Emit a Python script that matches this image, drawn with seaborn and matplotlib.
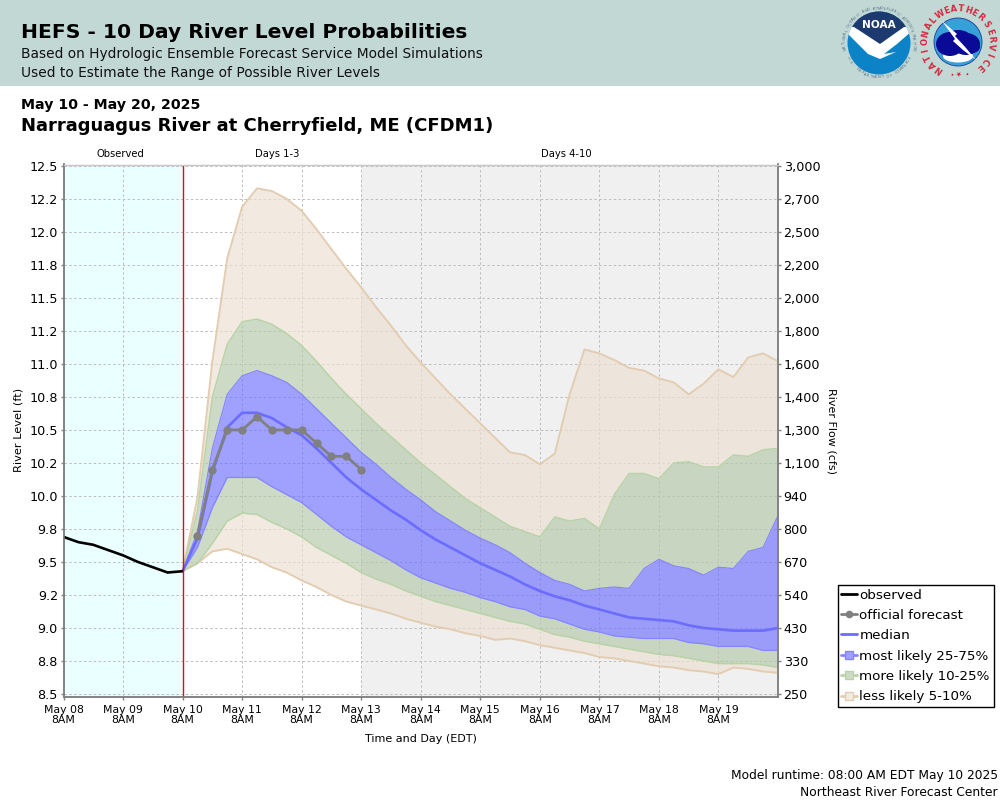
import numpy as np
import pandas as pd
import matplotlib
matplotlib.use("Agg")
import matplotlib.pyplot as plt
import seaborn as sns
from matplotlib.lines import Line2D
from matplotlib.patches import Circle, Ellipse, Polygon, Rectangle

# ─── Data (river level in ft) ─────────────────────────────────────────────────
OBSERVED = [9.69, 9.65, 9.63, 9.59, 9.55, 9.50, 9.46, 9.42, 9.43]
OFFICIAL = [9.7, 10.2, 10.5, 10.5, 10.6, 10.5, 10.5, 10.5, 10.4, 10.3, 10.3, 10.2]

P95 = [9.43, 9.99, 11.02, 11.80, 12.19, 12.33, 12.31, 12.25, 12.16, 12.02, 11.87,
       11.72, 11.58, 11.43, 11.29, 11.14, 11.01, 10.89, 10.77, 10.66, 10.55,
       10.44, 10.33, 10.31, 10.24, 10.32, 10.77, 11.11, 11.08, 11.03, 10.97,
       10.95, 10.89, 10.86, 10.77, 10.85, 10.96, 10.90, 11.05, 11.08, 11.02]
P90 = [9.43, 9.89, 10.75, 11.15, 11.32, 11.34, 11.30, 11.23, 11.14, 11.02, 10.89,
       10.77, 10.66, 10.55, 10.45, 10.35, 10.25, 10.16, 10.07, 9.98, 9.91,
       9.84, 9.77, 9.73, 9.69, 9.84, 9.81, 9.83, 9.75, 10.01, 10.17,
       10.17, 10.13, 10.25, 10.26, 10.22, 10.22, 10.31, 10.30, 10.35, 10.36]
P75 = [9.43, 9.73, 10.36, 10.77, 10.91, 10.95, 10.91, 10.86, 10.77, 10.66, 10.55,
       10.44, 10.33, 10.24, 10.14, 10.05, 9.97, 9.88, 9.81, 9.74, 9.68,
       9.63, 9.57, 9.49, 9.42, 9.36, 9.33, 9.28, 9.30, 9.31, 9.30,
       9.45, 9.52, 9.47, 9.45, 9.40, 9.46, 9.45, 9.58, 9.61, 9.85]
MEDIAN = [9.43, 9.68, 10.18, 10.52, 10.63, 10.63, 10.59, 10.52, 10.46, 10.36, 10.25,
          10.14, 10.05, 9.97, 9.89, 9.82, 9.74, 9.67, 9.61, 9.55, 9.49,
          9.44, 9.39, 9.33, 9.28, 9.24, 9.21, 9.17, 9.14, 9.11, 9.08,
          9.07, 9.06, 9.05, 9.02, 9.00, 8.99, 8.98, 8.98, 8.98, 9.00]
P25 = [9.43, 9.61, 9.91, 10.14, 10.14, 10.14, 10.07, 10.01, 9.95, 9.86, 9.77,
       9.69, 9.63, 9.57, 9.51, 9.44, 9.38, 9.34, 9.30, 9.27, 9.23,
       9.20, 9.16, 9.14, 9.09, 9.07, 9.03, 8.99, 8.97, 8.94, 8.93,
       8.92, 8.92, 8.92, 8.89, 8.88, 8.86, 8.86, 8.86, 8.83, 8.83]
P10 = [9.43, 9.49, 9.64, 9.81, 9.87, 9.86, 9.80, 9.75, 9.69, 9.61, 9.55,
       9.49, 9.42, 9.37, 9.33, 9.28, 9.24, 9.20, 9.17, 9.14, 9.11,
       9.08, 9.05, 9.03, 8.99, 8.95, 8.93, 8.90, 8.88, 8.86, 8.84,
       8.82, 8.80, 8.79, 8.77, 8.75, 8.73, 8.73, 8.73, 8.72, 8.70]
P5 = [9.43, 9.49, 9.58, 9.60, 9.56, 9.52, 9.46, 9.42, 9.36, 9.31, 9.25,
      9.20, 9.17, 9.14, 9.11, 9.07, 9.04, 9.01, 8.99, 8.96, 8.94,
      8.91, 8.92, 8.90, 8.87, 8.85, 8.83, 8.81, 8.78, 8.77, 8.75,
      8.73, 8.71, 8.70, 8.68, 8.67, 8.65, 8.70, 8.69, 8.67, 8.66]

LEVEL_TICKS = [8.5, 8.75, 9.0, 9.25, 9.5, 9.75, 10.0, 10.25, 10.5, 10.75, 11.0,
               11.25, 11.5, 11.75, 12.0, 12.25, 12.5]
LEVEL_LABELS = ["8.5", "8.8", "9.0", "9.2", "9.5", "9.8", "10.0", "10.2", "10.5",
                "10.8", "11.0", "11.2", "11.5", "11.8", "12.0", "12.2", "12.5"]
FLOW_LABELS = ["250", "330", "430", "540", "670", "800", "940", "1,100", "1,300",
               "1,400", "1,600", "1,800", "2,000", "2,200", "2,500", "2,700", "3,000"]
DAY_LABELS = ["May 08", "May 09", "May 10", "May 11", "May 12", "May 13", "May 14",
              "May 15", "May 16", "May 17", "May 18", "May 19"]

# ─── Colours ──────────────────────────────────────────────────────────────────
TAN, TAN_EDGE = "#ede1d1", "#e3cdb2"
GREEN, GREEN_EDGE = "#b5c9aa", "#b9d3a9"
BLUE, BLUE_EDGE = "#7171ff", "#8585ff"
MEDIAN_COL = "#6c6cff"
GREY = "#808080"
HEADER = "#c2d8d5"
FILL_ALPHA = 0.67

sns.set_style("ticks")
plt.rcParams["font.family"] = ["DejaVu Sans"]
plt.rcParams["text.color"] = "black"
plt.rcParams["axes.labelcolor"] = "black"

fig = plt.figure(figsize=(10, 8), dpi=100)

# ─── Background layer in pixel coordinates: header, titles, logos ─────────────
bg = fig.add_axes([0, 0, 1, 1], zorder=0)
bg.set_xlim(0, 1000)
bg.set_ylim(800, 0)
bg.axis("off")

bg.add_patch(Rectangle((0, 0), 1000, 86, color=HEADER, lw=0))
bg.text(21, 33, "HEFS - 10 Day River Level Probabilities", fontsize=14.6, weight="bold", va="center")
bg.text(21, 54, "Based on Hydrologic Ensemble Forecast Service Model Simulations", fontsize=9.92, va="center", color="#111111")
bg.text(21, 73, "Used to Estimate the Range of Possible River Levels", fontsize=9.92, va="center", color="#111111")
bg.text(21, 105, "May 10 - May 20, 2025", fontsize=10.2, weight="bold", va="center")
bg.text(21, 126, "Narraguagus River at Cherryfield, ME (CFDM1)", fontsize=13.0, weight="bold", va="center")
bg.text(998, 776, "Model runtime: 08:00 AM EDT May 10 2025", fontsize=8.83, ha="right", va="center")
bg.text(998, 792, "Northeast River Forecast Center", fontsize=8.83, ha="right", va="center")


def ring_text(text, cx, cy, r, start, stop, size, color, bold=False, flip=False):
    # one rotated letter at a time, angles in degrees clockwise from north
    for ang, ch in zip(np.linspace(start, stop, len(text)), text):
        a = np.deg2rad(ang)
        bg.text(cx + r * np.sin(a), cy - r * np.cos(a), ch, fontsize=size, color=color,
                ha="center", va="center", rotation=-ang + (180 if flip else 0),
                weight="bold" if bold else "normal")


# NOAA logo
cx, cy = 879, 43
disc = Circle((cx, cy), 31.5, color="#0b83c6", lw=0)
bg.add_patch(disc)
wings = Polygon([(845, 20), (913, 20), (913, 30), (897, 44), (884, 54), (896, 52), (880, 59),
                 (868, 54), (850, 36), (845, 30)], color="white", lw=0)
navy = Polygon([(845, 5), (913, 5), (913, 27), (904, 27), (880, 44), (854, 27), (845, 27)],
               color="#1d3a70", lw=0)
for p in (wings, navy):
    bg.add_patch(p)
    p.set_clip_path(disc)
bg.text(cx, 25, "NOAA", fontsize=7.6, color="white", weight="bold", ha="center", va="center")
ring_text("NATIONAL OCEANIC AND ATMOSPHERIC ADMINISTRATION", cx, cy, 34.5, -100, 100, 2.6, "#55708a")
ring_text("U.S. DEPARTMENT OF COMMERCE", cx, cy, 34.5, 245, 115, 2.6, "#55708a", flip=True)

# National Weather Service logo
cx, cy = 958, 42
bg.add_patch(Circle((cx, cy), 24, facecolor="#38a0d8", edgecolor="#1d3a9a", lw=0.6))
bg.add_patch(Ellipse((cx, cy + 14), 30, 13, color="white", lw=0))
for dx, dy, w, h in [(-8, 2, 28, 24), (8, 2, 28, 22), (0, -3, 28, 18), (-13, 5, 16, 14), (14, 5, 16, 12)]:
    bg.add_patch(Ellipse((cx + dx, cy + dy), w, h, color="#0a0a96", lw=0))
bg.add_patch(Polygon([(cx - 16, 21), (cx - 1, 34), (cx - 3, 36), (cx + 8, 48), (cx + 18, 60),
                      (cx + 5, 50), (cx - 5, 41), (cx - 3, 39)], color="white", lw=0))
ring_text("NATIONAL", cx, cy, 33, -145, -48, 6, "#d7263d", bold=True)
ring_text("WEATHER", cx, cy, 33, -32, 42, 6, "#d7263d", bold=True)
ring_text("SERVICE", cx, cy, 33, 58, 138, 6, "#d7263d", bold=True)
ring_text("•★•", cx, cy, 30, 194, 166, 5, "#d7263d")

# ─── Main chart ───────────────────────────────────────────────────────────────
ax = fig.add_axes([0.0635, 1 - 697 / 800, 0.7145, (697 - 164.5) / 800], zorder=1)

start = pd.Timestamp("2025-05-08 08:00")
now = pd.Timestamp("2025-05-10 08:00")
end = pd.Timestamp("2025-05-20 08:00")
days_1_3_end = pd.Timestamp("2025-05-13 08:00")
obs_time = pd.date_range(start, now, periods=len(OBSERVED))
fc_time = pd.date_range(now, end, periods=len(MEDIAN))

bands = pd.DataFrame({"time": fc_time, "p95": P95, "p90": P90, "p75": P75, "median": MEDIAN,
                      "p25": P25, "p10": P10, "p5": P5})
obs = pd.DataFrame({"time": obs_time, "level": OBSERVED})
official = pd.DataFrame({"time": fc_time[1:len(OFFICIAL) + 1], "level": OFFICIAL})

ax.axvspan(start, now, color="#eaffff", lw=0, zorder=0)
ax.axvspan(days_1_3_end, end, color="#f0f0f0", lw=0, zorder=0)

ax.set_axisbelow(True)
ax.grid(True, color="#bcbcbc", ls=(0, (2.5, 2.5)), lw=0.7)

for lo, hi, col in [("p90", "p95", TAN), ("p5", "p10", TAN), ("p75", "p90", GREEN),
                    ("p10", "p25", GREEN), ("p25", "p75", BLUE)]:
    ax.fill_between(bands["time"], bands[lo], bands[hi], color=col, alpha=FILL_ALPHA, lw=0, zorder=2)

for name, edge, lw in [("p95", TAN_EDGE, 1.4), ("p5", TAN_EDGE, 1.4), ("p90", GREEN_EDGE, 1.1),
                       ("p10", GREEN_EDGE, 1.1), ("p75", BLUE_EDGE, 0.9), ("p25", BLUE_EDGE, 0.9)]:
    sns.lineplot(data=bands, x="time", y=name, color=edge, lw=lw, ax=ax, zorder=3, legend=False)

sns.lineplot(data=bands, x="time", y="median", color=MEDIAN_COL, lw=1.9, ax=ax, zorder=4, legend=False)
sns.lineplot(data=obs, x="time", y="level", color="black", lw=1.9, ax=ax, zorder=5, legend=False)
ax.axvline(now, color="#ff0000", lw=1.0, zorder=5)
sns.lineplot(data=official, x="time", y="level", color=GREY, lw=2.0, marker="o", markersize=6,
             markeredgewidth=0, ax=ax, zorder=6, legend=False)

ax.set_xlim(start, end)
ax.set_ylim(8.477, 12.511)
ax.set_yticks(LEVEL_TICKS, LEVEL_LABELS)
day_ticks = pd.date_range(start, periods=len(DAY_LABELS), freq="D")
ax.set_xticks(day_ticks, [d + "\n8AM" for d in DAY_LABELS], fontsize=7.8, linespacing=1.05)
ax.tick_params(axis="y", labelsize=9.2, length=2.5, width=1, color=GREY, labelcolor="black", pad=1.5)
ax.tick_params(axis="x", length=2.5, width=1, color=GREY, labelcolor="black", pad=3)
ax.set_xlabel("Time and Day (EDT)", fontsize=8)
ax.xaxis.set_label_coords(0.5, -0.0695)
ax.set_ylabel("River Level (ft)", fontsize=8.2)
ax.yaxis.set_label_coords(-0.056, 0.501)

ax2 = ax.twinx()
ax2.set_zorder(2)
ax2.set_ylim(ax.get_ylim())
ax2.set_yticks(LEVEL_TICKS, FLOW_LABELS)
ax2.tick_params(axis="y", labelsize=9.2, length=2.5, width=1, color=GREY, labelcolor="black", pad=1.5)
ax2.set_ylabel("River Flow (cfs)", fontsize=8, rotation=270, va="center")
ax2.yaxis.set_label_coords(1.0755, 0.499)
ax2.grid(False)

for a in (ax, ax2):
    for side, spine in a.spines.items():
        spine.set_visible(True)
        spine.set_color("#c8c8c8" if side == "top" else GREY)
        spine.set_linewidth(0.9 if side == "top" else 1.1)

for label, when in [("Observed", "2025-05-09 07:00"), ("Days 1-3", "2025-05-11 22:00"),
                    ("Days 4-10", "2025-05-16 18:40")]:
    ax.annotate(label, (pd.Timestamp(when), 1), xycoords=("data", "axes fraction"), xytext=(0, 7.5),
                textcoords="offset points", fontsize=7.2, ha="center", va="center")

# ─── Legend ───────────────────────────────────────────────────────────────────
handles = [
    Line2D([], [], color="black", lw=2),
    Line2D([], [], color=GREY, lw=2, marker="o", markersize=5.5, markeredgewidth=0),
    Line2D([], [], color=MEDIAN_COL, lw=2),
    Line2D([], [], color=BLUE_EDGE, lw=2, marker="s", markersize=6, markerfacecolor="#a0a0ff", markeredgecolor=BLUE_EDGE),
    Line2D([], [], color=GREEN_EDGE, lw=2, marker="s", markersize=6, markerfacecolor="#cddbc6", markeredgecolor=GREEN_EDGE),
    Line2D([], [], color=TAN_EDGE, lw=2, marker="s", markersize=6, markerfacecolor="#f3ebe0", markeredgecolor=TAN_EDGE),
]
labels = ["observed", "official forecast", "median", "most likely 25-75%", "more likely 10-25%", "less likely 5-10%"]
leg = fig.legend(handles, labels, loc="lower left", bbox_to_anchor=(0.8375, 1 - 707 / 800),
                 bbox_transform=fig.transFigure, fontsize=9.7, frameon=True, fancybox=False,
                 framealpha=1, edgecolor="black", borderaxespad=0, borderpad=0.28,
                 labelspacing=0.545, handlelength=1.15, handletextpad=0.2)
leg.get_frame().set_linewidth(1)

fig.savefig("out.png", dpi=100)
